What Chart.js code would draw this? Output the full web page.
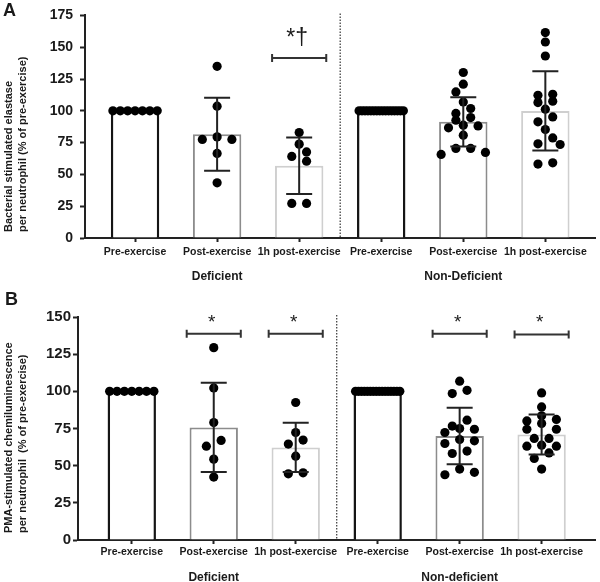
<!DOCTYPE html>
<html>
<head>
<meta charset="utf-8">
<script src="https://cdn.jsdelivr.net/npm/chart.js@4.4.0/dist/chart.umd.min.js"></script>
<style>
  body { margin: 0; background: #fff; }
  .panel { position: absolute; left: 0; width: 600px; }
  #panelA { top: 0; height: 290px; }
  #panelB { top: 290px; height: 292px; }
</style>
</head>
<body>
<div class="panel" id="panelA"><canvas id="chartA"></canvas></div>
<div class="panel" id="panelB"><canvas id="chartB"></canvas></div>
<script>
// Shared categories
const timepoints = ['Pre-exercise', 'Post-exercise', '1h post-exercise', 'Pre-exercise', 'Post-exercise', '1h post-exercise'];

// Panel A - bacterial stimulated elastase
const groupsA = ['Deficient', 'Non-Deficient'];
const yTitleA = ['Bacterial stimulated elastase', 'per neutrophil (% of pre-exercise)'];
const yTicksA = [0, 25, 50, 75, 100, 125, 150, 175];
const meanA = [100, 81.6, 56.8, 100, 91.3, 99.9];
const sdA = [0, 28.7, 22.2, 0, 19.3, 31.2];
const defPreA = [100, 100, 100, 100, 100, 100, 100];
const defPostA = [135, 103.6, 79.5, 77.5, 77.5, 66.5, 43.4];
const def1hA = [82.9, 73.8, 67.7, 64.1, 60.4, 27.2, 27.2];
const nonPreA = [100, 100, 100, 100, 100, 100, 100, 100, 100, 100, 100, 100, 100, 100, 100, 100];
const nonPostA = [130.1, 120.9, 114.8, 107, 101.8, 97.9, 94.7, 92.6, 88.7, 88.1, 86.6, 80.8, 70.4, 70.4, 67.3, 65.7];
const non1hA = [161.5, 154.1, 143.1, 113, 112.2, 107.5, 106.5, 101.3, 95.2, 91.3, 85.3, 78.7, 74, 73.5, 59.1, 58.1];
const sigCatA = [2];
const sigTextA = ['*\u2020'];
const sigLevelA = [141.5];

// Panel B - PMA-stimulated chemiluminescence
const groupsB = ['Deficient', 'Non-deficient'];
const yTitleB = ['PMA-stimulated chemiluminescence', 'per neutrophil  (% of pre-exercise)'];
const yTicksB = [0, 25, 50, 75, 100, 125, 150];
const meanB = [100, 75.7, 62.3, 100, 70, 71];
const sdB = [0, 30, 16.6, 0, 19, 13.5];
const defPreB = [100, 100, 100, 100, 100, 100, 100];
const defPostB = [129.4, 102.3, 79, 67, 63.1, 54.4, 42.3];
const def1hB = [92.5, 72.3, 67.2, 64.5, 56.4, 45.2, 44.5];
const nonPreB = [100, 100, 100, 100, 100, 100, 100, 100, 100, 100, 100, 100, 100, 100, 100, 100];
const nonPostB = [106.8, 100.7, 98.5, 80.6, 76.6, 75, 74.5, 72.3, 67.6, 66.7, 64.9, 59.8, 58.2, 47.7, 45.5, 43.9];
const non1hB = [98.9, 89.5, 83.5, 81.1, 80.1, 78.4, 74.5, 74.5, 68.3, 68.3, 63.8, 63.1, 63.1, 58.6, 54.9, 47.7];
const sigCatB = [1, 2, 4, 5];
const sigTextB = ['*', '*', '*', '*'];
const sigLevelB = [138.8, 138.8, 138.8, 138.3];

const FONT = '"Liberation Sans", Arial, sans-serif';
const INK = '#1a1a1a';
const barEdge = ['#151515', '#8c8c8c', '#cfcfcf', '#151515', '#8c8c8c', '#cfcfcf'];
const barEdgeWidth = [2.5, 2, 2, 2.5, 2, 2];

// prism-like dot spreading: values close in height share a row,
// lone points step aside if they would sit on the row above
function swarm(chart, groups) {
    const { x, y } = chart.scales;
    const unit = Math.abs(x.getPixelForValue(1) - x.getPixelForValue(0));
    const out = [];
    const spacing = 0.18, maxSpread = 0.54, rowPx = 6, hitPx = 9;
    groups.forEach((vals, i) => {
        const sorted = vals.slice().sort((a, b) => b - a);
        let row = [];
        let prev = [];
        const hits = (dx, v) => prev.some(q => Math.hypot((dx - q.dx) * unit, y.getPixelForValue(v) - y.getPixelForValue(q.v)) < hitPx);
        const flush = () => {
            const k = row.length;
            let slots = [];
            if (k === 1) {
                const tries = [0, -spacing / 2, spacing / 2, -spacing, spacing];
                slots = [tries.find(dx => !hits(dx, row[0])) ?? 0];
            } else {
                let step = spacing;
                if ((k - 1) * step > maxSpread) step = maxSpread / (k - 1);
                for (let j = 0; j < k; j++) slots.push((j - (k - 1) / 2) * step);
                slots.sort((a, b) => Math.abs(a) - Math.abs(b) || b - a);
            }
            prev = row.map((v, j) => ({ dx: slots[j], v }));
            prev.forEach(q => out.push({ x: i + q.dx, y: q.v }));
            row = [];
        };
        sorted.forEach(v => {
            if (row.length && y.getPixelForValue(v) - y.getPixelForValue(row[0]) > rowPx) flush();
            row.push(v);
        });
        flush();
    });
    return out;
}

function makeExtras(p) {
    return {
        id: 'extras',
        beforeDatasetsDraw(chart) {
            // dotted divider between the two groups
            const { ctx, chartArea, scales: { x } } = chart;
            const px = x.getPixelForValue(2.5);
            ctx.save();
            ctx.strokeStyle = '#444';
            ctx.lineWidth = 1.3;
            ctx.setLineDash([1.5, 1.5]);
            ctx.beginPath();
            ctx.moveTo(px, chartArea.top - 2);
            ctx.lineTo(px, chartArea.bottom);
            ctx.stroke();
            ctx.restore();
        },
        afterDatasetsDraw(chart) {
            const { ctx, scales: { x, y } } = chart;
            ctx.save();
            ctx.strokeStyle = '#222';
            ctx.lineWidth = 2;
            // error bars (mean +/- SD)
            p.means.forEach((m, i) => {
                if (!p.sds[i]) return;
                const cx = x.getPixelForValue(i);
                const top = y.getPixelForValue(m + p.sds[i]);
                const bot = y.getPixelForValue(m - p.sds[i]);
                ctx.beginPath();
                ctx.moveTo(cx, top); ctx.lineTo(cx, bot);
                ctx.moveTo(cx - 13, top); ctx.lineTo(cx + 13, top);
                ctx.moveTo(cx - 13, bot); ctx.lineTo(cx + 13, bot);
                ctx.stroke();
            });
            // significance brackets
            ctx.strokeStyle = '#333';
            ctx.fillStyle = INK;
            ctx.textAlign = 'center';
            ctx.textBaseline = 'alphabetic';
            ctx.font = p.sigFont;
            p.sigCat.forEach((c, k) => {
                const l = x.getPixelForValue(c - 0.33);
                const r = x.getPixelForValue(c + 0.33);
                const by = y.getPixelForValue(p.sigLevel[k]);
                ctx.beginPath();
                ctx.moveTo(l, by); ctx.lineTo(r, by);
                ctx.moveTo(l, by - 4); ctx.lineTo(l, by + 4);
                ctx.moveTo(r, by - 4); ctx.lineTo(r, by + 4);
                ctx.stroke();
                ctx.fillText(p.sigText[k], x.getPixelForValue(c) - 2, by - p.sigGap);
            });
            ctx.restore();
        },
        afterDraw(chart) {
            const { ctx, scales: { x } } = chart;
            ctx.save();
            ctx.fillStyle = INK;
            // panel letter
            ctx.font = 'bold 18px ' + FONT;
            ctx.textAlign = 'left';
            ctx.textBaseline = 'top';
            ctx.fillText(p.letter, p.letterX, p.letterY);
            // group labels
            ctx.font = 'bold 12px ' + FONT;
            ctx.textAlign = 'center';
            ctx.textBaseline = 'middle';
            p.groups.forEach((g, k) => ctx.fillText(g, x.getPixelForValue(1 + 3 * k), p.groupY));
            // rotated y title, two lines
            ctx.font = 'bold 11px ' + FONT;
            ctx.textAlign = 'left';
            p.yTitle.forEach((line, k) => {
                ctx.save();
                ctx.translate(9 + 14 * k, p.titleStart);
                ctx.rotate(-Math.PI / 2);
                ctx.fillText(line, 0, 0);
                ctx.restore();
            });
            ctx.restore();
        }
    };
}

function buildPanel(canvasId, p) {
    const chart = new Chart(document.getElementById(canvasId), {
        type: 'bar',
        data: {
            datasets: [
                {
                    type: 'scatter',
                    data: [],
                    order: 1,
                    pointRadius: 4.6,
                    pointHoverRadius: 4.6,
                    pointBackgroundColor: '#000',
                    pointBorderWidth: 0
                },
                {
                    type: 'bar',
                    data: p.means.map((m, i) => ({ x: i, y: m })),
                    order: 2,
                    backgroundColor: '#fff',
                    borderColor: barEdge,
                    borderWidth: barEdgeWidth,
                    categoryPercentage: 1,
                    barPercentage: 0.59
                }
            ]
        },
        options: {
            responsive: true,
            maintainAspectRatio: false,
            animation: false,
            layout: { padding: { top: p.padTop, right: p.padRight, left: 0, bottom: 0 } },
            plugins: {
                legend: { display: false },
                tooltip: { enabled: false }
            },
            scales: {
                x: {
                    type: 'linear',
                    offset: false,
                    min: -p.xPad,
                    max: 5 + p.xPad,
                    afterBuildTicks: s => { s.ticks = timepoints.map((_, i) => ({ value: i })); },
                    afterFit: s => { s.height = p.xHeight; },
                    grid: { offset: false, drawOnChartArea: false, drawTicks: true, tickLength: 4, tickWidth: 2, tickColor: '#222' },
                    border: { color: '#222', width: 2 },
                    ticks: {
                        callback: v => timepoints[v],
                        maxRotation: 0,
                        autoSkip: false,
                        padding: p.xTickPad,
                        color: INK,
                        font: { family: FONT, size: 10.5, weight: 'bold' }
                    }
                },
                y: {
                    min: p.yTicks[0],
                    max: p.yTicks[p.yTicks.length - 1],
                    afterBuildTicks: s => { s.ticks = p.yTicks.map(v => ({ value: v })); },
                    afterFit: s => { s.width = p.yWidth; },
                    grid: { drawOnChartArea: false, drawTicks: true, tickLength: 5, tickWidth: 2, tickColor: '#222' },
                    border: { color: '#222', width: 2 },
                    ticks: {
                        padding: p.yTickPad,
                        color: INK,
                        font: { family: FONT, size: p.yTickSize, weight: 'bold' }
                    }
                }
            }
        },
        plugins: [makeExtras(p)]
    });
    chart.data.datasets[0].data = swarm(chart, p.points);
    chart.update();
    return chart;
}

buildPanel('chartA', {
    letter: 'A', letterX: 3, letterY: 2,
    groups: groupsA, yTitle: yTitleA, yTicks: yTicksA,
    means: meanA, sds: sdA,
    points: [defPreA, defPostA, def1hA, nonPreA, nonPostA, non1hA],
    sigCat: sigCatA, sigText: sigTextA, sigLevel: sigLevelA,
    sigFont: '23px ' + FONT, sigGap: 13,
    padTop: 15, padRight: 2, xPad: 0.61, xHeight: 52, yWidth: 85,
    xTickPad: 4, yTickPad: 7, yTickSize: 14,
    groupY: 277, titleStart: 232
});

buildPanel('chartB', {
    letter: 'B', letterX: 5, letterY: 1,
    groups: groupsB, yTitle: yTitleB, yTicks: yTicksB,
    means: meanB, sds: sdB,
    points: [defPreB, defPostB, def1hB, nonPreB, nonPostB, non1hB],
    sigCat: sigCatB, sigText: sigTextB, sigLevel: sigLevelB,
    sigFont: '19px ' + FONT, sigGap: 6,
    padTop: 27, padRight: 3, xPad: 0.656, xHeight: 42, yWidth: 78,
    xTickPad: 2, yTickPad: 2, yTickSize: 15,
    groupY: 288, titleStart: 243
});
</script>
</body>
</html>
